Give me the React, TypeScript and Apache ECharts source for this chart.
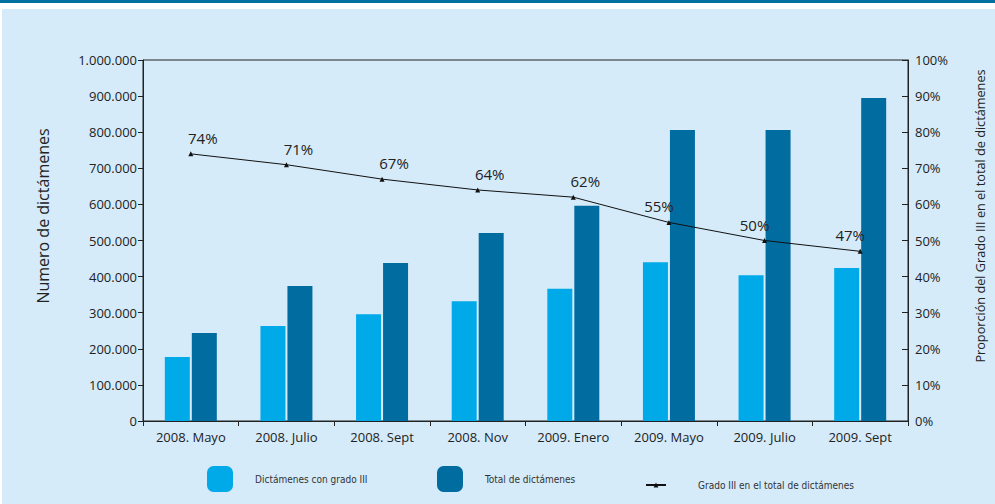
import React, { useEffect, useRef } from "react";
import * as echarts from "echarts";

const categories = [
  "2008. Mayo",
  "2008. Julio",
  "2008. Sept",
  "2008. Nov",
  "2009. Enero",
  "2009. Mayo",
  "2009. Julio",
  "2009. Sept",
];
const gradoIII = [177000, 263000, 296000, 332000, 366000, 440000, 404000, 424000];
const totalDict = [244000, 374000, 438000, 521000, 596000, 806000, 806000, 895000];
const proporcion = [74, 71, 67, 64, 62, 55, 50, 47];

const seriesNames = [
  "Dictámenes con grado III",
  "Total de dictámenes",
  "Grado III en el total de dictámenes",
];
const leftAxisName = "Numero de dictámenes";
const rightAxisName = "Proporción del Grado III en el total de dictámenes";

const FONT = "'Open Sans', sans-serif";
const LEGEND_FONT = "'DejaVu Sans Condensed', 'DejaVu Sans', sans-serif";

function fmtThousands(v: number): string {
  return String(Math.round(v)).replace(/\B(?=(\d{3})+(?!\d))/g, ".");
}

export default function App() {
  const ref = useRef<HTMLDivElement>(null);
  useEffect(() => {
    if (!ref.current) return;
    const chart = echarts.init(ref.current, undefined, { renderer: "svg" });
    const legendText = {
      fontFamily: LEGEND_FONT,
      fontSize: 10,
      color: "#333",
      padding: [3, 0, 0, 17],
    };
    chart.setOption({
      animation: false,
      backgroundColor: "#ffffff",
      graphic: [
        {
          type: "rect",
          z: -10,
          shape: { x: 0, y: 0, width: 995, height: 3 },
          style: { fill: "#0070a0" },
          silent: true,
        },
        {
          type: "rect",
          z: -10,
          shape: { x: 2, y: 9, width: 993, height: 495 },
          style: { fill: "#d5ebfa" },
          silent: true,
        },
        {
          type: "text",
          x: 43,
          y: 216,
          rotation: Math.PI / 2,
          style: {
            text: leftAxisName,
            fontFamily: FONT,
            fontSize: 16,
            fill: "#222",
            align: "center",
            verticalAlign: "middle",
          },
        },
        {
          type: "text",
          x: 980,
          y: 216,
          rotation: Math.PI / 2,
          style: {
            text: rightAxisName,
            fontFamily: FONT,
            fontSize: 12.7,
            fill: "#222",
            align: "center",
            verticalAlign: "middle",
          },
        },
      ],
      grid: {
        left: 143,
        right: 87,
        top: 60,
        bottom: 83,
        show: true,
        borderColor: "#222",
        borderWidth: 1,
        backgroundColor: "transparent",
      },
      legend: [
        {
          left: 207,
          top: 466,
          padding: 0,
          itemWidth: 26,
          itemHeight: 26,
          data: [seriesNames[0]],
          textStyle: legendText,
          selectedMode: false,
        },
        {
          left: 437,
          top: 466,
          padding: 0,
          itemWidth: 26,
          itemHeight: 26,
          data: [seriesNames[1]],
          textStyle: legendText,
          selectedMode: false,
        },
        {
          left: 645,
          top: 480,
          padding: 0,
          itemWidth: 20,
          itemHeight: 6,
          data: [seriesNames[2]],
          textStyle: { ...legendText, padding: [0, 0, 0, 27] },
          selectedMode: false,
        },
      ],
      xAxis: {
        type: "category",
        data: categories,
        axisLine: { lineStyle: { color: "#222", width: 1 } },
        axisTick: { show: true, length: 5, lineStyle: { color: "#222" } },
        axisLabel: { fontFamily: FONT, fontSize: 13, color: "#222", margin: 9 },
      },
      yAxis: [
        {
          type: "value",
          min: 0,
          max: 1000000,
          interval: 100000,
          splitLine: { show: false },
          axisLine: { show: true, lineStyle: { color: "#222" } },
          axisTick: { show: true, length: 5, lineStyle: { color: "#222" } },
          axisLabel: {
            fontFamily: FONT,
            fontSize: 13,
            color: "#222",
            margin: 6,
            formatter: (v: number) => fmtThousands(v),
          },
        },
        {
          type: "value",
          min: 0,
          max: 100,
          interval: 10,
          position: "right",
          splitLine: { show: false },
          axisLine: { show: true, lineStyle: { color: "#222" } },
          axisTick: { show: true, inside: true, length: 6, lineStyle: { color: "#222" } },
          axisLabel: {
            fontFamily: FONT,
            fontSize: 13,
            color: "#222",
            margin: 7,
            formatter: (v: number) => v + "%",
          },
        },
      ],
      series: [
        {
          name: seriesNames[0],
          type: "bar",
          data: gradoIII,
          barWidth: 25,
          barGap: "8%",
          itemStyle: { color: "#00a9e8" },
        },
        {
          name: seriesNames[1],
          type: "bar",
          data: totalDict,
          barWidth: 25,
          itemStyle: { color: "#006ca0" },
        },
        {
          name: seriesNames[2],
          type: "line",
          yAxisIndex: 1,
          data: proporcion.map((v, i) => ({
            value: v,
            label: { offset: i < 5 ? [12, 0] : [-10, 0] },
          })),
          symbol: "triangle",
          symbolSize: 5,
          lineStyle: { color: "#111", width: 1 },
          itemStyle: { color: "#111" },
          label: {
            show: true,
            position: "top",
            distance: 6,
            fontFamily: FONT,
            fontSize: 15,
            color: "#222",
            formatter: (p: any) => p.value + "%",
          },
          z: 5,
        },
      ],
    });
    return () => chart.dispose();
  }, []);
  return (
    <div
      ref={ref}
      style={{ position: "fixed", left: 0, top: 0, width: 995, height: 504 }}
    />
  );
}
